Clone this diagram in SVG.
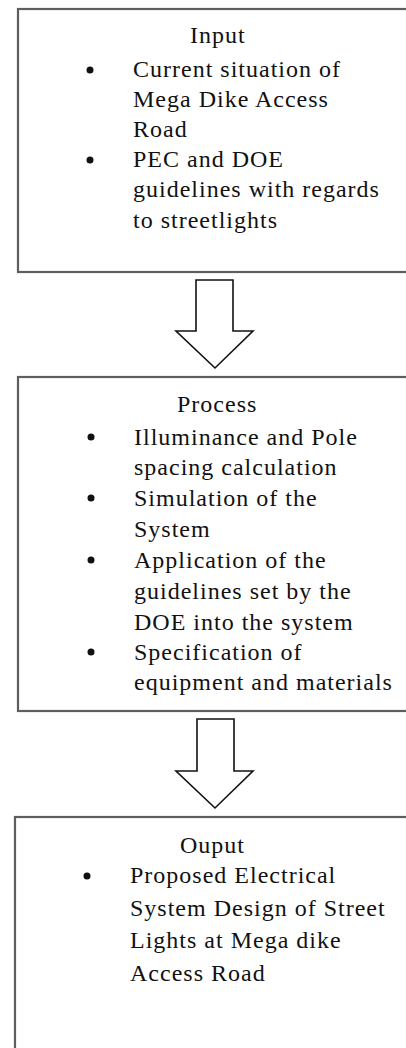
<svg xmlns="http://www.w3.org/2000/svg" width="406" height="1048" viewBox="0 0 406 1048">
<style>
.box{fill:#fff;stroke:#5e5e5e;stroke-width:2.2}
.arrow{fill:#fff;stroke:#111;stroke-width:1.6;stroke-linejoin:miter}
text{font-family:"Liberation Serif","Times New Roman",serif;font-size:24px;letter-spacing:1px;fill:#111}
.dot{fill:#111}
</style>
<rect width="406" height="1048" fill="#fff"/>
<g id="input">
<rect class="box" x="18" y="9" width="420" height="263"/>
<text x="190" y="43">Input</text>
<circle class="dot" cx="90" cy="70" r="3.5"/>
<text x="133" y="77">Current situation of</text>
<text x="133" y="107">Mega Dike Access</text>
<text x="133" y="137">Road</text>
<circle class="dot" cx="90" cy="160" r="3.5"/>
<text x="133" y="167">PEC and DOE</text>
<text x="133" y="197">guidelines with  regards</text>
<text x="133" y="228">to streetlights</text>
</g>
<g id="process">
<rect class="box" x="18" y="377" width="420" height="334"/>
<text x="177" y="412">Process</text>
<circle class="dot" cx="91" cy="437" r="3.5"/>
<text x="134" y="445">Illuminance and Pole</text>
<text x="134" y="475">spacing calculation</text>
<circle class="dot" cx="91" cy="498" r="3.5"/>
<text x="134" y="506">Simulation of the</text>
<text x="134" y="537">System</text>
<circle class="dot" cx="91" cy="560" r="3.5"/>
<text x="134" y="568">Application of the</text>
<text x="134" y="599">guidelines set by the</text>
<text x="134" y="630">DOE into the system</text>
<circle class="dot" cx="91" cy="652" r="3.5"/>
<text x="134" y="660">Specification of</text>
<text x="134" y="690">equipment and materials</text>
</g>
<g id="output">
<rect class="box" x="15" y="817" width="420" height="260"/>
<text x="180" y="853">Ouput</text>
<circle class="dot" cx="87" cy="876" r="3.5"/>
<text x="130" y="883">Proposed Electrical</text>
<text x="130" y="916">System Design of Street</text>
<text x="130" y="948">Lights at Mega dike</text>
<text x="130" y="981">Access Road</text>
</g>
<g id="connectors">
<polygon class="arrow" points="196,280 233,280 233,331 253,331 215,368 176,331 196,331"/>
<polygon class="arrow" points="197,719 234,719 234,771 253,771 215,808 176,771 197,771"/>
</g>
</svg>
